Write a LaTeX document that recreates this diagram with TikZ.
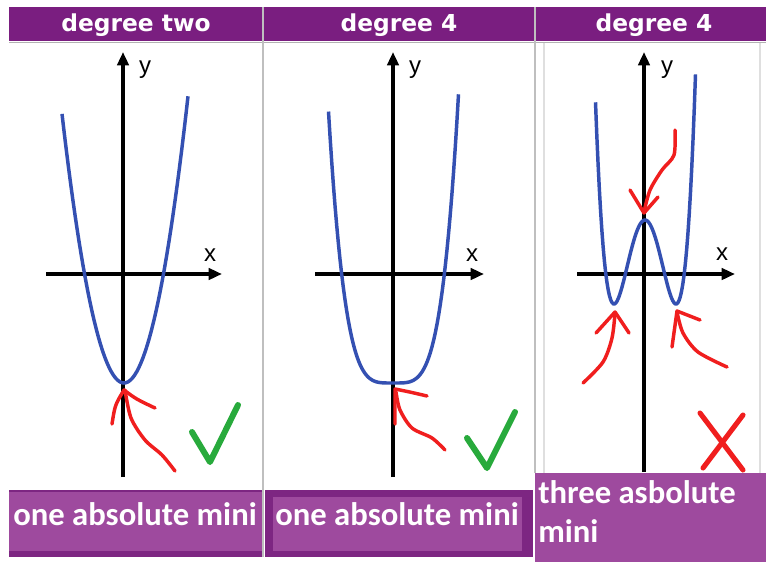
\documentclass[tikz,border=0pt]{standalone}
\usepackage{fontspec}
\newfontfamily\headfont{DejaVu Sans}
\newfontfamily\bandfont{Carlito}
\newfontfamily\axfont{Liberation Sans}
\usetikzlibrary{arrows.meta}
\definecolor{headpurple}{RGB}{122,30,128}
\definecolor{bandpurple}{RGB}{158,74,158}
\definecolor{banddark}{RGB}{125,38,130}
\definecolor{curveblue}{RGB}{52,80,178}
\definecolor{penred}{RGB}{240,30,30}
\definecolor{tickgreen}{RGB}{40,170,60}
\begin{document}
\begin{tikzpicture}[x=0.75pt,y=-0.75pt,
  axis/.style={line width=3pt,-{Triangle[length=10pt,width=8.5pt]}},
  curve/.style={curveblue,line width=2.6pt},
  pen/.style={penred,line width=2.6pt,line cap=round,line join=round},
  tick/.style={tickgreen,line width=4.5pt,line cap=round,line join=round},
  head/.style={text=white,font=\headfont\bfseries\fontsize{17.5}{20}\selectfont},
  band/.style={text=white,font=\bandfont\bfseries\fontsize{24.5}{29}\selectfont,inner sep=0pt},
  lbl/.style={font=\axfont\fontsize{18}{20}\selectfont,inner sep=0pt}]
  \useasboundingbox (0,0) rectangle (766,562);
  \fill[white] (0,0) rectangle (766,562);
  % header and footer bands
  \fill[headpurple] (9,7) rectangle (766,41);
  \draw[gray!60,line width=1pt] (9,42.5) -- (766,42.5);
  \draw[gray!50,line width=1pt] (263,7) -- (263,557);
  \draw[gray!50,line width=1pt] (535,7) -- (535,473);
  \draw[gray!25,line width=0.8pt] (544,43) -- (544,473);
  \draw[gray!25,line width=0.8pt] (760,43) -- (760,473);
  \fill[banddark] (9,490) rectangle (262,557);
  \fill[bandpurple] (9,492) rectangle (262,551);
  \fill[banddark] (265,490) rectangle (533,557);
  \fill[bandpurple] (273,497) rectangle (522,551);
  \fill[bandpurple] (535,473) rectangle (766,562);
  \node[head] (h1) at (136,25) {degree two};
  \node[head] (h2) at (399,25) {degree 4};
  \node[head] (h3) at (654,25) {degree 4};
  \node[band,anchor=base west] (b1) at (13,525) {one absolute mini};
  \node[band,anchor=base west] (b2) at (275,525) {one absolute mini};
  \node[band,anchor=base west,align=left] (b3) at (538,542) {three asbolute\\mini};
  % degree two
  \draw[axis] (123,477) -- (123,52);
  \draw[axis] (46,274) -- (222,274);
  \node[lbl] (y1) at (145,70) {y};
  \node[lbl] (x1) at (210,255) {x};
  \draw[curve] plot[domain=-62:64,samples=60] ({124+\x},{383-0.07*\x*\x});
  \draw[pen] plot[smooth] coordinates {(125,390) (131,418) (145,440) (162,455) (175,471)};
  \draw[pen] (112,424) .. controls (115,405) .. (124,390) .. controls (136,399) .. (155,408);
  \draw[tick] (192,432) -- (210,462) -- (238,405);
  % degree 4, flat bottom
  \draw[axis] (393,477) -- (393,52);
  \draw[axis] (315,274) -- (484,274);
  \node[lbl] (y2) at (415,70) {y};
  \node[lbl] (x2) at (472,255) {x};
  \draw[curve] plot[domain=-64.5:65.5,samples=80] ({393+\x},{383-280*(\x/65)^4});
  \draw[pen] plot[smooth] coordinates {(396,392) (400,410) (412,428) (432,438) (445,450)};
  \draw[pen] (395,424) -- (395,389) .. controls (410,392) .. (427,396);
  \draw[tick] (467,438) -- (487,468) -- (515,412);
  % degree 4, W shape
  \draw[axis] (644,472) -- (644,52);
  \draw[axis] (577,274) -- (735,274);
  \node[lbl] (y3) at (667,70) {y};
  \node[lbl] (x3) at (722,254) {x};
  \draw[curve] plot[domain=-49.5:50.5,samples=80] ({645+\x},{304-84*((\x/31)^2-1)^2});
  \draw[pen] plot[smooth] coordinates {(675,130) (674,155) (662,170) (650,190) (644,212)};
  \draw[pen] (630,190) -- (644,213) -- (658,197);
  \draw[pen] plot[smooth] coordinates {(615,313) (612,338) (603,362) (583,383)};
  \draw[pen] (596,333) -- (615,312) -- (629,333);
  \draw[pen] plot[smooth] coordinates {(677,312) (683,333) (698,352) (727,367)};
  \draw[pen] (672,347) -- (677,311) -- (700,320);
  \draw[pen,line width=3.8pt] (700,413) -- (743,470);
  \draw[pen,line width=3.8pt] (743,415) -- (703,468);
\end{tikzpicture}
\end{document}
